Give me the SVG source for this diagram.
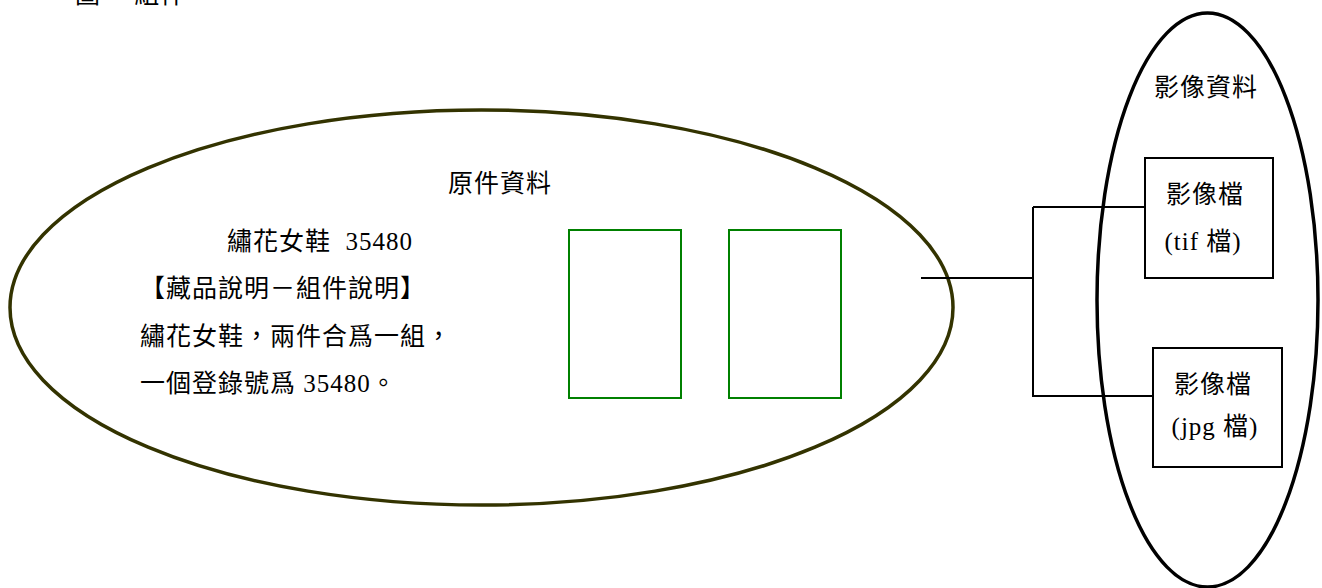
<svg xmlns="http://www.w3.org/2000/svg" width="1322" height="588" viewBox="0 0 1322 588">
<style>
text{font-family:"Liberation Serif","Noto Sans CJK TC",serif;fill:#000;font-size:25px;letter-spacing:1px}
.conn{stroke:#000;stroke-width:2;fill:none}
.green{fill:none;stroke:#008000;stroke-width:2}
.box{fill:#fff;stroke:#000;stroke-width:2}
</style>
<rect width="1322" height="588" fill="#fff"/>
<text x="75" y="3" font-size="24">圖一 組件</text>
<g id="orig">
<ellipse cx="481.5" cy="307.5" rx="471.5" ry="197.5" fill="none" stroke="#333300" stroke-width="3.5"/>
<text x="500" y="192" text-anchor="middle">原件資料</text>
<text x="227" y="250">繡花女鞋&#160; 35480</text>
<text x="140" y="297">【藏品說明－組件說明】</text>
<text x="140" y="345">繡花女鞋，兩件合爲一組，</text>
<text x="140" y="392">一個登錄號爲 35480。</text>
</g>
<g id="item1"><rect class="green" x="569" y="230" width="112" height="168"/></g>
<g id="item2"><rect class="green" x="729" y="230" width="112" height="168"/></g>
<g id="image">
<ellipse cx="1207.5" cy="300" rx="110.5" ry="287" fill="none" stroke="#000" stroke-width="3.5"/>
<text x="1206" y="96" text-anchor="middle">影像資料</text>
</g>
<g id="connectors">
<path class="conn" d="M921 278H1033M1033 207V397M1033 207H1145M1033 396H1153"/>
</g>
<g id="tif">
<rect class="box" x="1145" y="158" width="128" height="120"/>
<text x="1205" y="203" text-anchor="middle">影像檔</text>
<text x="1203" y="250" text-anchor="middle">(tif 檔)</text>
</g>
<g id="jpg">
<rect class="box" x="1153" y="348" width="129" height="119"/>
<text x="1213" y="393" text-anchor="middle">影像檔</text>
<text x="1215" y="435" text-anchor="middle">(jpg 檔)</text>
</g>
</svg>
